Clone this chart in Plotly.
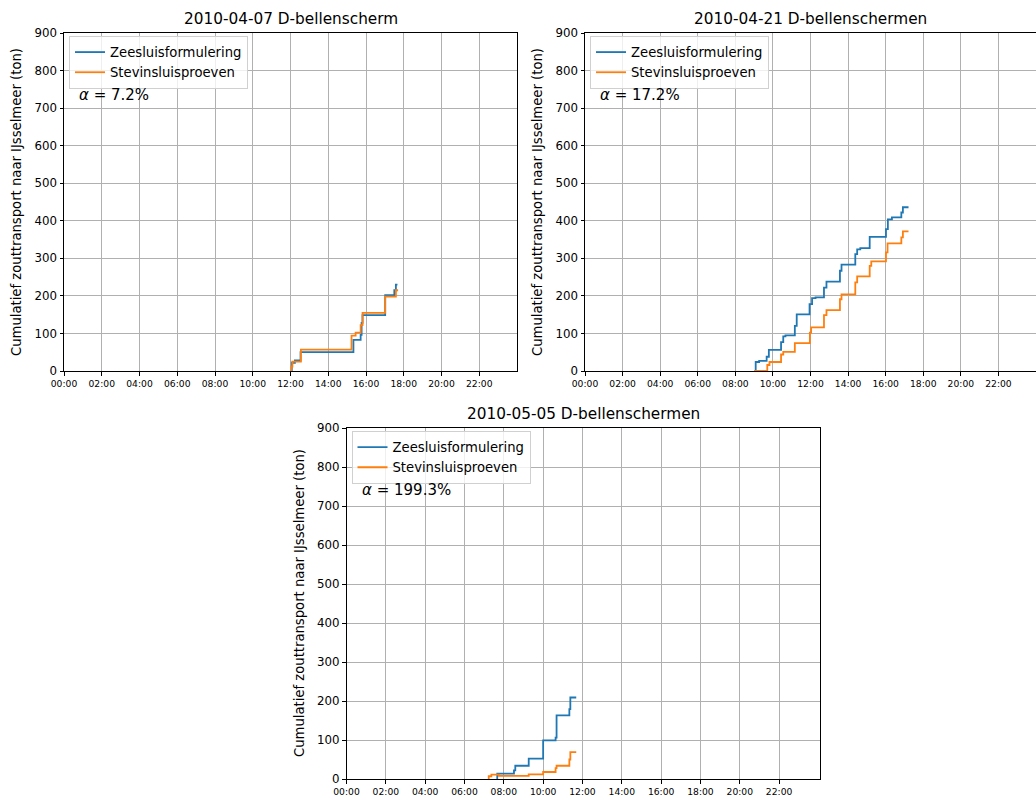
import plotly.graph_objects as go

W, H = 1036, 798

# ---------------- data ----------------
titles = ["2010-04-07 D-bellenscherm", "2010-04-21 D-bellenschermen", "2010-05-05 D-bellenschermen"]
alphas = ["7.2%", "17.2%", "199.3%"]
series_names = ["Zeesluisformulering", "Stevinsluisproeven"]
tick_hours = [0, 2, 4, 6, 8, 10, 12, 14, 16, 18, 20, 22]
tick_labels = ["00:00", "02:00", "04:00", "06:00", "08:00", "10:00",
               "12:00", "14:00", "16:00", "18:00", "20:00", "22:00"]
y_ticks = [0, 100, 200, 300, 400, 500, 600, 700, 800, 900]

# panel 1 : 2010-04-07
p1_zee_t = ["12:03", "12:04", "12:14", "12:32", "15:20", "15:43", "15:46", "15:49", "17:01", "17:30", "17:35", "17:40"]
p1_zee_v = [0, 22, 28, 50, 83, 96, 128, 149, 202, 215, 230, 230]
p1_ste_t = ["12:02", "12:03", "12:06", "12:33", "15:14", "15:27", "15:43", "15:49", "17:01", "17:35", "17:42"]
p1_ste_v = [0, 12, 25, 57, 94, 102, 122, 155, 198, 215, 215]

# panel 2 : 2010-04-21
p2_zee_t = ["09:04", "09:05", "09:16", "09:40", "09:47", "10:26", "10:33", "10:40", "11:10", "11:16",
            "11:57", "12:05", "12:16", "12:43", "12:51", "13:34", "13:39", "14:23", "14:29", "14:39",
            "15:09", "16:01", "16:07", "16:20", "16:50", "16:55", "17:13"]
p2_zee_v = [0, 24, 27, 38, 56, 77, 92, 95, 120, 151,
            178, 194, 196, 222, 238, 267, 283, 311, 324, 327,
            357, 378, 404, 409, 422, 436, 436]
p2_ste_t = ["09:00", "09:42", "09:49", "10:26", "10:33", "11:10", "11:58", "12:02", "12:43", "12:51",
            "13:34", "13:39", "14:23", "14:29", "15:09", "15:14", "16:01", "16:06", "16:50", "16:55", "17:13"]
p2_ste_v = [0, 16, 24, 44, 51, 74, 102, 116, 149, 162,
            191, 204, 236, 252, 280, 292, 316, 340, 356, 372, 372]

# panel 3 : 2010-05-05
p3_zee_t = ["07:39", "07:40", "08:31", "08:35", "09:16", "10:00", "10:38", "10:41", "11:20", "11:23", "11:41"]
p3_zee_v = [0, 14, 22, 34, 52, 99, 106, 163, 179, 209, 209]
p3_ste_t = ["07:13", "07:14", "07:22", "07:45", "09:16", "10:00", "10:38", "10:41", "11:20", "11:23", "11:41"]
p3_ste_v = [0, 7, 11, 8, 12, 18, 28, 34, 50, 69, 69]

panels_data = [
    (p1_zee_t, p1_zee_v, p1_ste_t, p1_ste_v),
    (p2_zee_t, p2_zee_v, p2_ste_t, p2_ste_v),
    (p3_zee_t, p3_zee_v, p3_ste_t, p3_ste_v),
]

colors = ["#1f77b4", "#ff7f0e"]


def to_hours(times):
    out = []
    for s in times:
        h, m = s.split(":")
        out.append(int(h) + int(m) / 60.0)
    return out


# ---------------- layout (pixel boxes) ----------------
# (left, right, top, bottom) in pixels
boxes = [(64, 517, 33, 371), (585, 1036, 33, 371), (346.5, 820, 428, 779)]
x_ranges = [[0, 24], [0, 24], [0, 24.08]]


def fx(px):
    return px / W


def fy(py):
    return 1 - py / H


FONT = "DejaVu Sans"
fig = go.Figure()
annotations = []

for i, (data, box) in enumerate(zip(panels_data, boxes)):
    n = "" if i == 0 else str(i + 1)
    xa = "x" + n
    ya = "y" + n
    leg = "legend" + n
    zt, zv, st, sv = data
    for j, (t, v) in enumerate([(zt, zv), (st, sv)]):
        fig.add_trace(go.Scatter(
            x=to_hours(t), y=v, mode="lines", line_shape="hv",
            line=dict(color=colors[j], width=1.8),
            name=series_names[j], xaxis=xa, yaxis=ya, legend=leg,
            showlegend=True, hoverinfo="skip"))

    l, r, t, b = box
    axis_common = dict(showline=True, linecolor="black", linewidth=1, mirror=True,
                       ticks="outside", ticklen=3.5, tickcolor="black",
                       showgrid=True, gridcolor="#b0b0b0", gridwidth=0.8,
                       zeroline=False, automargin=False)
    fig.layout["xaxis" + n] = dict(
        domain=[fx(l), fx(r)], anchor=ya, range=x_ranges[i],
        tickvals=tick_hours, ticktext=tick_labels,
        tickfont=dict(family=FONT, size=9.2, color="black"), **axis_common)
    fig.layout["yaxis" + n] = dict(
        domain=[fy(b), fy(t)], anchor=xa, range=[0, 900],
        tickvals=y_ticks, tickfont=dict(family=FONT, size=11.8, color="black"),
        **axis_common)

    fig.layout[leg] = dict(
        x=fx(l + 5), y=fy(t + 3), xanchor="left", yanchor="top",
        bgcolor="rgba(255,255,255,0.8)", bordercolor="#d0d0d0", borderwidth=1,
        font=dict(family=FONT, size=13.2, color="black"),
        itemwidth=30, tracegroupgap=0)

    # title
    annotations.append(dict(
        text=titles[i], x=fx((l + r) / 2), y=fy(t - 14), xref="paper", yref="paper",
        xanchor="center", yanchor="middle", showarrow=False,
        font=dict(family=FONT, size=15.3, color="black")))
    # alpha
    annotations.append(dict(
        text="<i>α</i> = " + alphas[i], x=fx(l + 13), y=fy(t + 62), xref="paper", yref="paper",
        xanchor="left", yanchor="middle", showarrow=False,
        font=dict(family=FONT, size=15, color="black")))
    # y axis title
    annotations.append(dict(
        text="Cumulatief zouttransport naar IJsselmeer (ton)",
        x=fx(l - 47), y=fy((t + b) / 2), xref="paper", yref="paper",
        xanchor="center", yanchor="middle", textangle=-90, showarrow=False,
        font=dict(family=FONT, size=13.2, color="black")))

fig.update_layout(
    width=W, height=H, margin=dict(l=0, r=0, t=0, b=0, autoexpand=False),
    paper_bgcolor="white", plot_bgcolor="white",
    annotations=annotations, showlegend=True)

fig.write_html("out.html")
